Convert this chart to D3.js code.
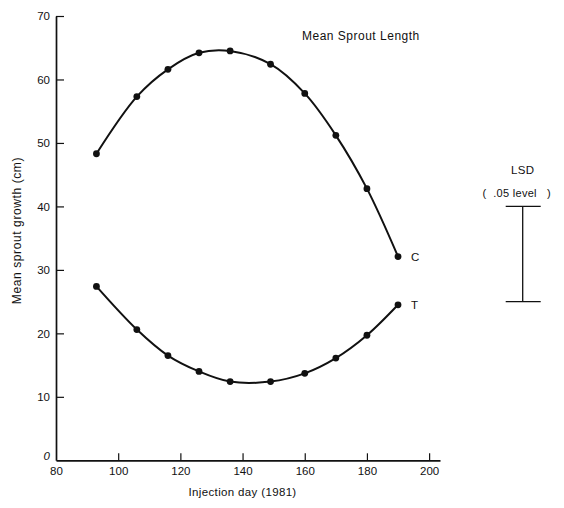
<!DOCTYPE html>
<html><head><meta charset="utf-8">
<script src="https://cdn.jsdelivr.net/npm/d3@7"></script>
<style>
body{margin:0;background:#fff;}
svg text{font-family:"Liberation Sans",Arial,sans-serif;fill:#111;}
</style></head>
<body><svg id="c" width="564" height="508"></svg>
<script>
const days = [93, 106, 116, 126, 136, 149, 160, 170, 180, 190];
const control = [48.3, 57.3, 61.6, 64.2, 64.5, 62.4, 57.8, 51.2, 42.8, 32.1];
const treated = [27.4, 20.6, 16.5, 14.0, 12.4, 12.4, 13.7, 16.1, 19.7, 24.5];
const xTicks = [80, 100, 120, 140, 160, 180, 200];
const yTicks = [0, 10, 20, 30, 40, 50, 60, 70];
const lsd = [25, 40];

const svg = d3.select("#c");
const x = d3.scaleLinear().domain([80, 203.5]).range([56, 440]);
const y = d3.scaleLinear().domain([0, 70]).range([460.3, 16]);
const FONT = "Liberation Sans, Arial, sans-serif";

// axes
const xAxis = d3.axisBottom(x).tickValues(xTicks).tickSizeInner(-7).tickSizeOuter(0).tickPadding(7);
const gx = svg.append("g").attr("transform", `translate(0,${y(0)})`).call(xAxis);
gx.select(".domain").attr("stroke", "#111").attr("stroke-width", 1.7);
gx.selectAll(".tick line").attr("stroke", "#111").attr("stroke-width", 1.2);
gx.selectAll(".tick text").attr("font-size", 11.5).attr("font-family", FONT).attr("fill", "#111");
gx.selectAll(".tick").filter(d => d === 80).select("line").remove();

const yAxis = d3.axisLeft(y).tickValues(yTicks).tickSizeInner(-8).tickSizeOuter(0).tickPadding(6);
const gy = svg.append("g").attr("transform", `translate(${x(80)},0)`).call(yAxis);
gy.select(".domain").attr("stroke", "#111").attr("stroke-width", 1.7);
gy.selectAll(".tick line").attr("stroke", "#111").attr("stroke-width", 1.2);
gy.selectAll(".tick text").attr("font-size", 11.5).attr("font-family", FONT).attr("fill", "#111");
gy.selectAll(".tick").filter(d => d === 0).select("text").attr("font-style", "italic").attr("dy", "-0.05em");
gy.selectAll(".tick").filter(d => d === 0).select("line").remove();

// axis titles
svg.append("text").attr("x", x(140)).attr("y", 496).attr("text-anchor", "middle")
  .attr("font-size", 11.5).attr("letter-spacing", 0.35).text("Injection day (1981)");
svg.append("text").attr("transform", `translate(21,${y(36.2)}) rotate(-90)`).attr("text-anchor", "middle")
  .attr("font-size", 12).attr("letter-spacing", 0.6).text("Mean sprout growth (cm)");

// curves
const line = d3.line().x(d => x(d[0])).y(d => y(d[1])).curve(d3.curveCatmullRom.alpha(0.5));
const series = [
  {name: "C", vals: control},
  {name: "T", vals: treated}
];
series.forEach(s => {
  const pts = days.map((d, i) => [d, s.vals[i]]);
  svg.append("path").datum(pts).attr("d", line).attr("fill", "none")
    .attr("stroke", "#111").attr("stroke-width", 2);
  svg.append("g").selectAll("circle").data(pts).join("circle")
    .attr("cx", d => x(d[0])).attr("cy", d => y(d[1])).attr("r", 3.4).attr("fill", "#111");
  const last = pts[pts.length - 1];
  svg.append("text").attr("x", x(last[0]) + 13).attr("y", y(last[1]) + 4.5)
    .attr("font-size", 11.5).text(s.name);
});

// title
svg.append("text").attr("x", 302).attr("y", 40).attr("font-size", 12).attr("letter-spacing", 0.5)
  .text("Mean Sprout Length");

// LSD bar
const lx = 522.7;
svg.append("text").attr("x", lx).attr("y", 173.5).attr("text-anchor", "middle")
  .attr("font-size", 11.5).attr("letter-spacing", 0.4).text("LSD");
svg.append("text").attr("x", lx - 6).attr("y", 197).attr("text-anchor", "middle")
  .attr("font-size", 11).attr("letter-spacing", 0.3).style("white-space", "pre").text("(  .05 level   )");
const lg = svg.append("g").attr("stroke", "#111").attr("stroke-width", 1.3);
lg.append("line").attr("x1", lx).attr("x2", lx).attr("y1", y(lsd[0])).attr("y2", y(lsd[1]));
lsd.forEach(v => lg.append("line").attr("x1", lx - 17).attr("x2", lx + 18).attr("y1", y(v)).attr("y2", y(v)));
</script></body></html>
